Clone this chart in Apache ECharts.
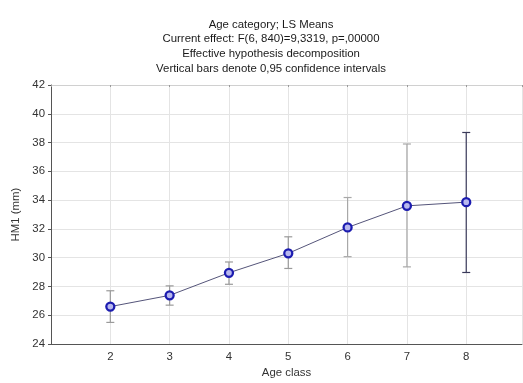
<!DOCTYPE html>
<html>
<head>
<meta charset="utf-8">
<script src="https://cdn.jsdelivr.net/npm/echarts@6/dist/echarts.min.js"></script>
<style>html,body{margin:0;padding:0;background:#fff;overflow:hidden}#c{width:523px;height:383px}</style>
</head>
<body>
<div id="c"></div>
<script>
var classes = [2, 3, 4, 5, 6, 7, 8];
var means = [26.6, 27.38, 28.95, 30.3, 32.1, 33.6, 33.86];
var lower = [25.5, 26.7, 28.15, 29.25, 30.07, 29.36, 28.97];
var upper = [27.7, 28.04, 29.7, 31.45, 34.18, 37.9, 38.7];
var barColors = ['#9a9a9a', '#9a9a9a', '#9a9a9a', '#9a9a9a', '#a8a8a8', '#a8a8a8', '#3a3a5a'];
var titleLines = ['Age category; LS Means', 'Current effect: F(6, 840)=9,3319, p=,00000', 'Effective hypothesis decomposition', 'Vertical bars denote 0,95 confidence intervals'];

var font = 'Liberation Sans, Arial, sans-serif';
var chart = echarts.init(document.getElementById('c'), null, {renderer: 'canvas'});
var errData = classes.map(function (c, i) { return [c, lower[i], upper[i], i]; });
chart.setOption({
  animation: false,
  backgroundColor: '#fff',
  title: {
    text: titleLines.join('\n'),
    left: 266, top: 12, textAlign: 'center',
    textStyle: {fontFamily: font, fontSize: 11.4, fontWeight: 'normal', color: '#1a1a1a', lineHeight: 14.8}
  },
  grid: {left: 51, right: 1, top: 85, height: 263, containLabel: false},
  xAxis: [{
    type: 'value', min: 1, max: 8.94, interval: 1,
    name: 'Age class', nameLocation: 'middle', nameGap: 23,
    nameTextStyle: {fontFamily: font, fontSize: 11.4, color: '#333'},
    axisLine: {show: true, onZero: false, lineStyle: {color: '#555', width: 1}},
    axisTick: {show: false},
    axisLabel: {fontFamily: font, fontSize: 11.4, color: '#333', margin: 7, showMaxLabel: false,
      formatter: function (v) { return (v >= 2 && v <= 8) ? String(v) : ''; }},
    splitLine: {show: true, lineStyle: {color: '#e4e4e4', width: 1}}
  }, {
    type: 'value', min: 1, max: 8.94, interval: 1, position: 'top',
    axisLine: {show: true, lineStyle: {color: '#d0d0d0'}},
    axisTick: {show: true, inside: true, length: 2, lineStyle: {color: '#999'}},
    axisLabel: {show: false}, splitLine: {show: false}
  }],
  yAxis: {
    type: 'value', min: 24, max: 42, interval: 2,
    name: 'HM1 (mm)', nameLocation: 'middle', nameGap: 28, nameRotate: 90,
    nameTextStyle: {fontFamily: font, fontSize: 11.4, color: '#333'},
    axisLine: {show: true, lineStyle: {color: '#555', width: 1}},
    axisTick: {show: true, length: 3, lineStyle: {color: '#555'}},
    axisLabel: {fontFamily: font, fontSize: 11.4, color: '#333', margin: 6},
    splitLine: {show: true, lineStyle: {color: '#e4e4e4', width: 1}}
  },
  series: [{
    type: 'custom',
    data: errData,
    z: 2,
    renderItem: function (params, api) {
      var x = api.value(0);
      var lo = api.coord([x, api.value(1)]);
      var hi = api.coord([x, api.value(2)]);
      var col = barColors[api.value(3)];
      var w = 4;
      var st = {stroke: col, lineWidth: 1.2};
      return {type: 'group', children: [
        {type: 'line', shape: {x1: lo[0], y1: lo[1], x2: hi[0], y2: hi[1]}, style: st},
        {type: 'line', shape: {x1: lo[0] - w, y1: lo[1], x2: lo[0] + w, y2: lo[1]}, style: st},
        {type: 'line', shape: {x1: hi[0] - w, y1: hi[1], x2: hi[0] + w, y2: hi[1]}, style: st}
      ]};
    }
  }, {
    type: 'line',
    data: classes.map(function (c, i) { return [c, means[i]]; }),
    z: 3,
    symbol: 'circle', symbolSize: 8,
    lineStyle: {color: '#55557a', width: 1},
    itemStyle: {color: '#b8b8ee', borderColor: '#1c1cb0', borderWidth: 2.3}
  }]
});
</script>
</body>
</html>
